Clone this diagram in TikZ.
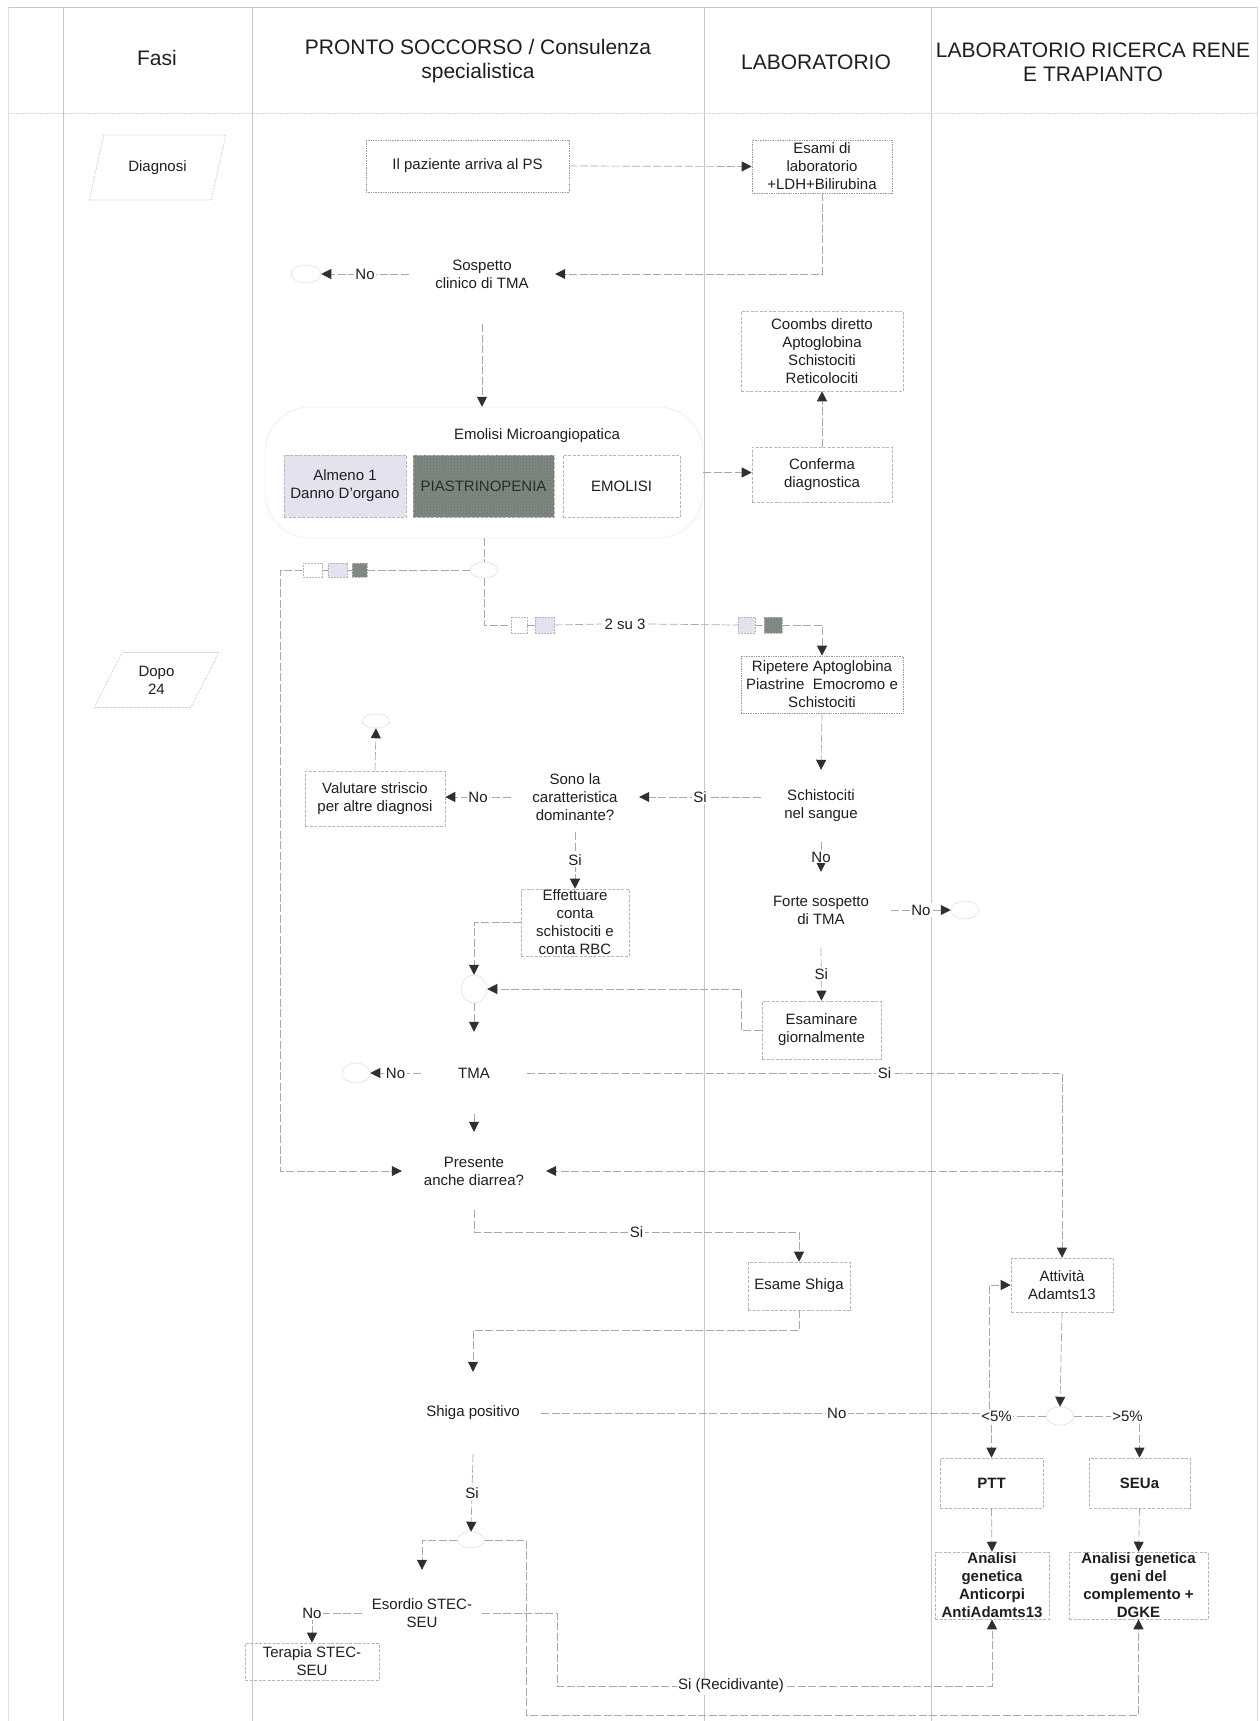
\documentclass[tikz,border=0pt]{standalone}
\usepackage{fontspec}
\setmainfont{Liberation Sans}
\usetikzlibrary{arrows.meta,shapes.geometric,patterns}
\definecolor{lanec}{HTML}{C6C6C6}
\definecolor{linec}{HTML}{A8A8A8}
\definecolor{tipc}{HTML}{2E302E}
\definecolor{boxc}{HTML}{B6B6B6}
\definecolor{lavc}{HTML}{E3E3EF}
\definecolor{darkc}{HTML}{808981}
\definecolor{darktx}{HTML}{2A2E2B}
\definecolor{txtc}{HTML}{1E1E1E}

\begin{document}
\begin{tikzpicture}[x=1pt,y=-1pt,
  every node/.style={text=txtc, font=\fontsize{15}{18}\selectfont},
  sz/.style 2 args={minimum width=#1pt, minimum height=#2pt},
  head/.style={font=\fontsize{21}{24}\selectfont, align=center},
  box/.style={draw=boxc, dash pattern=on 3pt off 1.5pt, line width=0.6pt, align=center, inner sep=1pt},
  dbox/.style={draw=gray!80, densely dotted, line width=0.7pt, align=center, inner sep=1pt},
  plain/.style={align=center, inner sep=1pt},
  conn/.style={draw=linec, line width=0.7pt, dash pattern=on 8pt off 2.5pt},
  arr/.style={conn, -{Triangle[length=10pt,width=10pt,color=tipc]}},
  lbl/.style={fill=white, inner sep=1.5pt},
  junc/.style={ellipse, draw=gray!28, line width=0.5pt, inner sep=0pt},
  sq/.style={draw=boxc, line width=0.5pt, dash pattern=on 2pt off 1pt, inner sep=0pt},
  phase/.style={trapezium, trapezium left angle=63, trapezium right angle=117,
    trapezium stretches=true, draw=gray!65, densely dotted, line width=0.6pt,
    align=center, inner sep=1pt},
  lane/.style={draw=lanec, line width=0.6pt}]

\useasboundingbox (0,0) rectangle (1260,1721);

% swimlane frame
\draw[lane] (8,7) -- (1257,7);
\draw[lane, draw=lanec!60] (8,7) -- (8,1721);
\foreach \lx in {63,252,704,931}{\draw[lane] (\lx,7) -- (\lx,1721);}
\draw[lane, draw=lanec!60] (1257,7) -- (1257,1721);
\draw[draw=lanec!70, densely dotted, line width=0.5pt] (8,113) -- (1257,113);

% lane headers
\node[head] (hFasi) at (157,58) {Fasi};
\node[head] (hPS) at (478,61) {PRONTO SOCCORSO / Consulenza\\specialistica};
\node[head] (hLab) at (816,62) {LABORATORIO};
\node[head] (hRic) at (1093,62) {LABORATORIO RICERCA RENE\\E TRAPIANTO};

% phases
\node[phase, sz={137}{65}] (diag) at (157.5,167.5) {Diagnosi};
\node[phase, sz={125}{55}] (dopo) at (156.5,680) {Dopo\\24};

% ---- diagnosis ----
\node[dbox, sz={203}{52}] (paz) at (467.5,166) {Il paziente arriva al PS};
\node[dbox, sz={140}{53}, inner sep=0pt] (esa1) at (822,166.5) {Esami di\\laboratorio\\+LDH+Bilirubina};
\node[plain, sz={146}{100}] (sos) at (482,274) {Sospetto\\clinico di TMA};
\node[junc, sz={30}{18}] (t1) at (306,274) {};
\node[box, sz={162}{80}] (coo) at (822,351) {Coombs diretto\\Aptoglobina\\Schistociti\\Reticolociti};

% microangiopathic haemolysis group
\node[draw=gray!18, line width=0.5pt, rounded corners=45pt, sz={438}{131}] (emg) at (484,472.5) {};
\node[plain] (emt) at (537,436) {Emolisi Microangiopatica};
\node[box, fill=lavc, sz={122}{62}] (alm) at (345,486) {Almeno 1\\Danno D'organo};
\node[box, fill=darkc, sz={141}{62}, text=darktx,
  postaction={pattern=crosshatch dots, pattern color=darkc!80!black}] (pia) at (483.5,486) {PIASTRINOPENIA};
\node[box, sz={117}{62}] (emo) at (621.5,486) {EMOLISI};
\node[box, sz={140}{55}] (conf) at (822,474.5) {Conferma\\diagnostica};

\draw[arr] (paz.east) -- (esa1.west);
\draw[arr] (esa1.south) |- (sos.east);
\draw[arr] (sos.west) -- node[lbl]{No} (t1.east);
\draw[arr] (sos.south) -- (sos.south |- emg.north);
\draw[arr] (emg.east) -- (emg.east -| conf.west);
\draw[arr] (conf.north) -- (coo.south);

% criteria split
\node[junc, sz={28}{16}] (j1) at (484,570) {};
\node[sq, sz={19}{14}] (sqA) at (312.5,570) {};
\node[sq, sz={19}{14}, fill=lavc] (sqB) at (337.5,570) {};
\node[sq, sz={15}{14}, fill=darkc] (sqC) at (359.5,570) {};
\node[sq, sz={16}{16}] (sqD) at (519,625) {};
\node[sq, sz={19}{16}, fill=lavc] (sqE) at (544.5,625) {};
\node[plain, inner sep=3pt] (due) at (625,624) {2 su 3};
\node[sq, sz={17}{16}, fill=lavc] (sqF) at (746.5,625) {};
\node[sq, sz={18}{16}, fill=darkc] (sqG) at (773,625) {};

\draw[conn] (emg.south) -- (j1.north);
\draw[conn] (j1.west) -- (sqC.east);
\draw[conn] (sqB.east) -- (sqC.west);
\draw[conn] (sqA.east) -- (sqB.west);
\draw[conn] (j1.south) |- (sqD.west);
\draw[conn] (sqD.east) -- (sqE.west);
\draw[conn] (sqE.east) -- (due.west);
\draw[conn] (due.east) -- (sqF.west);
\draw[conn] (sqF.east) -- (sqG.west);

% ---- after 24 h ----
\node[dbox, sz={162}{57}] (rip) at (822,684.5) {Ripetere Aptoglobina\\Piastrine~ Emocromo e\\Schistociti};
\draw[arr] (sqG.east) -| (rip.north);

\node[plain, sz={120}{72}] (sch) at (821,806) {Schistociti\\nel sangue};
\node[plain, sz={128}{70}] (sono) at (575,797) {Sono la\\caratteristica\\dominante?};
\node[box, sz={140}{55}] (val) at (375,798.5) {Valutare striscio\\per altre diagnosi};
\node[junc, sz={28}{14}] (t2) at (376,721) {};
\node[box, sz={108}{67}, inner sep=0pt] (eff) at (575,922.5) {Effettuare\\conta\\schistociti e\\conta RBC};
\node[plain, sz={140}{76}] (forte) at (821,910) {Forte sospetto\\di TMA};
\node[junc, sz={28}{18}] (t3) at (965,910) {};
\node[box, sz={119}{58}] (esam) at (821.5,1030) {Esaminare\\giornalmente};
\node[junc, sz={26}{28}] (j2) at (474,989) {};
\node[plain, sz={106}{82}] (tma) at (474,1073) {TMA};
\node[junc, sz={28}{20}] (t4) at (356,1073) {};
\node[plain, sz={144}{78}] (pres) at (474,1171) {Presente\\anche diarrea?};

\coordinate (kE) at (741,1010);
\coordinate (kLoop) at (280,1171);
\coordinate (kJ3) at (1062,1171);

\draw[arr] (rip.south) -- (sch.north);
\draw[arr] (sono.east -| sch.west) -- node[lbl]{Si} (sono.east);
\draw[arr] (sono.west) -- node[lbl]{No} (sono.west -| val.east);
\draw[arr] (val.north) -- (t2.south);
\draw[arr] (sono.south) -- node[lbl]{Si} (eff.north);
\draw[arr] (sch.south) -- node[lbl, inner sep=0.5pt]{No} (forte.north);
\draw[arr] (forte.east) -- node[lbl]{No} (t3.west);
\draw[arr] (forte.south) -- node[lbl]{Si} (esam.north);
\draw[arr] (eff.west) -| (j2.north);
\draw[arr] (esam.west) -| (kE) |- (j2.east);
\draw[arr] (j2.south) -- (tma.north);
\draw[arr] (tma.west) -- node[lbl]{No} (t4.east);
\draw[arr] (tma.south) -- (pres.north);
\draw[arr] (sqA.west) -| (kLoop) -- (pres.west);

% ---- Shiga toxin and ADAMTS13 work-up ----
\node[box, sz={102}{48}] (shiga) at (799,1286) {Esame Shiga};
\node[box, sz={102}{54}] (att) at (1062,1285) {Attività\\Adamts13};
\node[plain, sz={136}{82}] (shp) at (473,1413) {Shiga positivo};
\node[junc, sz={28}{18}] (j4) at (1060,1416) {};
\node[box, sz={103}{50}, font=\fontsize{15}{18}\selectfont\bfseries] (ptt) at (991.5,1483) {PTT};
\node[box, sz={101}{50}, font=\fontsize{15}{18}\selectfont\bfseries] (seua) at (1139.5,1483) {SEUa};
\node[box, sz={114}{67}, inner sep=0pt, font=\fontsize{15}{18}\selectfont\bfseries] (an1) at (992,1585.5) {Analisi\\genetica\\Anticorpi\\AntiAdamts13};
\node[box, sz={139}{67}, inner sep=0pt, font=\fontsize{15}{18}\selectfont\bfseries] (an2) at (1138.5,1585.5) {Analisi genetica\\geni del\\complemento +\\DGKE};
\node[junc, sz={27}{16}] (j5) at (471,1540) {};
\node[plain, sz={120}{86}] (eso) at (422,1613) {Esordio STEC-\\SEU};
\node[box, sz={134}{37}, inner sep=0pt] (ter) at (312,1661.5) {Terapia STEC-\\SEU};

\coordinate (kS) at (474,1232);
\coordinate (kSh) at (799,1330);
\coordinate (kNo) at (989,1413);
\coordinate (kB) at (526,1715);
\coordinate (kC) at (557,1686);

\draw[arr] (tma.east) -| node[lbl, pos=0.334]{Si} (att.north);
\draw[arr] (kJ3) -- (pres.east);
\draw[arr] (pres.south) -- (kS) -| node[lbl, pos=0.25]{Si} (shiga.north);
\draw[arr] (shiga.south) -- (kSh) -| (shp.north);
\draw[arr] (shp.east) -- node[lbl, pos=0.66]{No} (kNo) |- (att.west);
\draw[arr] (att.south) -- (j4.north);
\draw[arr] (j4.west) -| node[lbl, pos=0.5, xshift=5pt]{<5\%} (ptt.north);
\draw[arr] (j4.east) -| node[lbl, pos=0.5, xshift=-12pt]{>5\%} (seua.north);
\draw[arr] (ptt.south) -- (an1.north);
\draw[arr] (seua.south) -- (an2.north);
\draw[arr] (shp.south) -- node[lbl]{Si} (j5.north);
\draw[arr] (j5.west) -| (eso.north);
\draw[arr] (j5.east) -| (kB) -| (an2.south);
\draw[arr] (eso.west) -| node[lbl, pos=0.5]{No} (ter.north);
\draw[arr] (eso.east) -| (kC) -| node[lbl, pos=0.2]{Si (Recidivante)} (an1.south);

\end{tikzpicture}
\end{document}
